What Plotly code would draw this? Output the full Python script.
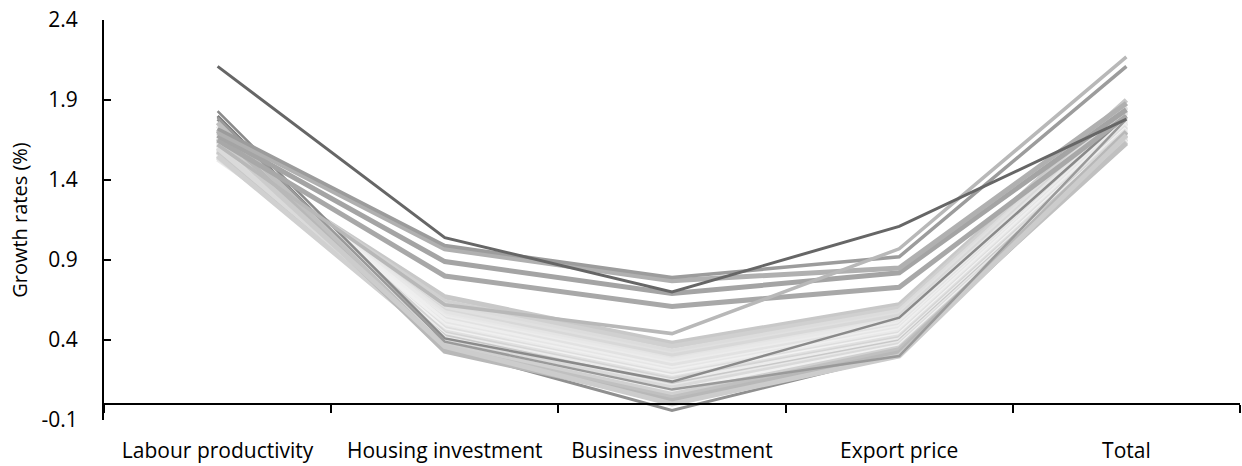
import plotly.graph_objects as go

categories = ["Labour productivity", "Housing investment", "Business investment", "Export price", "Total"]

# Each series: values at the five categories
series_values = [
    [1.58, 0.67, 0.38, 0.62, 1.90],
    [1.60, 0.64, 0.36, 0.60, 1.88],
    [1.78, 0.35, -0.04, 0.31, 1.65],
    [1.55, 0.62, 0.33, 0.58, 1.86],
    [1.80, 0.38, 0.08, 0.33, 1.75],
    [1.57, 0.60, 0.31, 0.56, 1.85],
    [1.62, 0.58, 0.30, 0.55, 1.83],
    [1.64, 0.57, 0.28, 0.53, 1.82],
    [1.66, 0.55, 0.27, 0.52, 1.80],
    [1.53, 0.54, 0.25, 0.50, 1.79],
    [1.59, 0.53, 0.24, 0.49, 1.78],
    [1.68, 0.52, 0.22, 0.48, 1.77],
    [1.61, 0.50, 0.21, 0.47, 1.76],
    [1.70, 0.49, 0.20, 0.46, 1.75],
    [1.56, 0.48, 0.19, 0.45, 1.74],
    [1.63, 0.47, 0.18, 0.44, 1.73],
    [1.67, 0.46, 0.17, 0.43, 1.72],
    [1.54, 0.45, 0.16, 0.42, 1.71],
    [1.72, 0.44, 0.15, 0.41, 1.70],
    [1.65, 0.43, 0.14, 0.40, 1.69],
    [1.58, 0.42, 0.12, 0.39, 1.68],
    [1.74, 0.41, 0.11, 0.38, 1.67],
    [1.60, 0.40, 0.10, 0.37, 1.66],
    [1.69, 0.38, 0.08, 0.36, 1.65],
    [1.55, 0.37, 0.06, 0.35, 1.64],
    [1.76, 0.35, 0.04, 0.34, 1.63],
    [1.71, 0.33, 0.02, 0.32, 1.70],
    [1.66, 0.36, 0.00, 0.30, 1.68],
    [1.83, 0.41, 0.14, 0.54, 1.80],
    [1.79, 0.39, 0.09, 0.30, 1.78],
    [1.65, 0.80, 0.61, 0.73, 1.80],
    [1.68, 0.89, 0.69, 0.82, 1.84],
    [1.70, 0.97, 0.77, 0.85, 1.88],
    [1.72, 0.99, 0.79, 0.92, 2.11],
    [1.62, 0.62, 0.44, 0.97, 2.17],
    [2.11, 1.04, 0.70, 1.11, 1.78],
]

series_colors = [
    "#c8c8c8", "#d0d0d0", "#909090", "#dcdcdc", "#7a7a7a", "#e0e0e0", "#d8d8d8",
    "#e4e4e4", "#e8e8e8", "#ececec", "#e2e2e2", "#eeeeee", "#e6e6e6", "#f0f0f0",
    "#eaeaea", "#dedede", "#f2f2f2", "#e0e0e0", "#d4d4d4", "#ececec", "#c8c8c8",
    "#e8e8e8", "#dadada", "#f0f0f0", "#d0d0d0", "#c0c0c0", "#b8b8b8", "#cccccc",
    "#8a8a8a", "#9a9a9a", "#a8a8a8", "#a4a4a4", "#b0b0b0", "#9c9c9c", "#b8b8b8",
    "#666666",
]

series_widths = [
    5, 5, 3, 5, 3, 5, 5, 5, 5, 5, 5, 5, 5, 5, 5, 5, 5, 5, 5, 5, 5, 5, 5, 5, 5,
    5, 5, 5, 2.5, 2.5, 5, 5, 5, 3.5, 3.5, 3,
]

y_ticks = [-0.1, 0.4, 0.9, 1.4, 1.9, 2.4]
y_tick_labels = ["-0.1", "0.4", "0.9", "1.4", "1.9", "2.4"]

FONT = "'Open Sans', Lato, sans-serif"
FS = 21

fig = go.Figure()
for vals, col, w in zip(series_values, series_colors, series_widths):
    fig.add_trace(go.Scatter(
        x=categories, y=vals, mode="lines",
        line=dict(color=col, width=w),
        showlegend=False, hoverinfo="skip",
    ))

# invisible trace on the boundary axis
fig.add_trace(go.Scatter(x=[-0.5, 4.5], y=[None, None], xaxis="x2",
                         mode="lines", showlegend=False, hoverinfo="skip"))

n = len(categories)
fig.update_layout(
    width=1242, height=466,
    margin=dict(l=104, r=2, t=20, b=46),
    paper_bgcolor="white", plot_bgcolor="white",
    font=dict(family=FONT, size=FS, color="black"),
    xaxis=dict(
        type="category", categoryorder="array", categoryarray=categories,
        range=[-0.5, n - 0.5], showline=False, ticks="", showgrid=False,
        zeroline=False, ticklabelstandoff=16,
        tickfont=dict(family=FONT, size=FS, color="black"),
    ),
    xaxis2=dict(
        overlaying="x", anchor="free", position=0.04, side="bottom",
        range=[-0.5, n - 0.5],
        tickvals=[i - 0.5 for i in range(n + 1)],
        showticklabels=False, ticks="outside", ticklen=8, tickwidth=1.5,
        tickcolor="black", showline=True, linecolor="black", linewidth=2,
        showgrid=False, zeroline=False,
    ),
    yaxis=dict(
        range=[-0.1, 2.4], tickvals=y_ticks, ticktext=y_tick_labels,
        showline=True, linecolor="black", linewidth=2,
        ticks="inside", ticklen=7, tickwidth=1.5, tickcolor="black",
        showgrid=False, zeroline=False, ticklabelstandoff=20,
        tickfont=dict(family=FONT, size=FS, color="black"),
    ),
    yaxis_title=dict(text="Growth rates (%)", standoff=9,
                     font=dict(family=FONT, size=FS - 1, color="black")),
)

fig.write_html("out.html")
